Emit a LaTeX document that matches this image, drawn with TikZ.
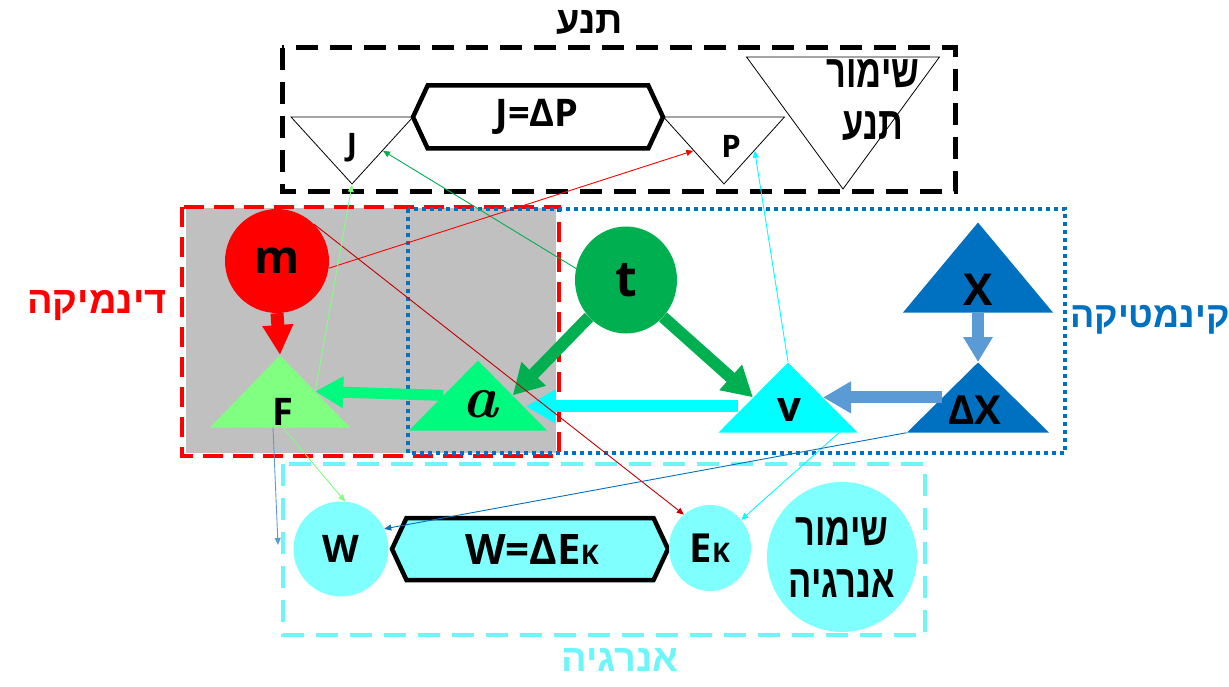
\documentclass[tikz,border=0pt]{standalone}
\usepackage{fontspec}
\usepackage{tikz}
\usetikzlibrary{shapes.geometric,shapes.symbols,arrows.meta}
\TeXXeTstate=1
\newfontfamily\latfont{Open Sans}
\newfontfamily\hebfont[Script=Hebrew]{Liberation Sans}
\newfontfamily\hebnarrow[Script=Hebrew,FakeStretch=0.75]{Liberation Sans}
\newcommand{\fsz}[1]{\fontsize{#1}{#1}\selectfont}
\definecolor{boxgray}{RGB}{192,192,192}
\definecolor{tgreen}{RGB}{0,176,80}
\definecolor{agreen}{RGB}{0,250,125}
\definecolor{lgreen}{RGB}{128,255,128}
\definecolor{dred}{RGB}{192,0,0}
\definecolor{vcyan}{RGB}{0,255,255}
\definecolor{kblue}{RGB}{0,112,192}
\definecolor{lblue}{RGB}{91,155,213}
\definecolor{ecyan}{RGB}{110,245,250}
\definecolor{lcyan}{RGB}{128,255,255}
\tikzstyle{tri} = [isosceles triangle, isosceles triangle stretches,
                   shape border rotate=90, inner sep=0pt, anchor=apex]
\tikzstyle{itri} = [isosceles triangle, isosceles triangle stretches,
                    shape border rotate=270, inner sep=0pt, anchor=apex,
                    draw=black, fill=white, line width=0.8pt]
\tikzstyle{hexa} = [signal, signal to=east and west, signal pointer angle=130,
                    draw=black, line width=4.5pt, inner sep=0pt]
\tikzstyle{frame} = [line width=4pt]
\tikzstyle{fat} = [line width=12pt, -{Triangle[length=28pt,width=30pt]}]
\tikzstyle{thin} = [line width=0.9pt, -{Triangle[length=7pt,width=6pt]}]
\tikzstyle{lat} = [inner sep=0pt]
\tikzstyle{heb} = [inner sep=0pt, align=center]

\begin{document}
\begin{tikzpicture}[x=1pt,y=-1pt]
\useasboundingbox (0,0) rectangle (1229,687);

% frames
\fill[boxgray] (186,208) rectangle (556,453);
\draw[frame, line width=5pt, dash pattern=on 22pt off 12pt] (282,48) rectangle (955,192);
\draw[frame, red, dash pattern=on 20pt off 10pt] (182,207) rectangle (559,456);
\draw[frame, kblue, dash pattern=on 4pt off 4pt] (408,209) rectangle (1065,453);
\draw[frame, ecyan, dash pattern=on 22pt off 12pt] (283,464) rectangle (925,635);

% frame labels
\node[heb, font=\hebfont\bfseries\fsz{38}] (tnua) at (590,22) {\beginR תנע\endR};
\node[heb, red, font=\hebfont\bfseries\fsz{38}] (dyn) at (97,306) {\beginR דינמיקה\endR};
\node[heb, kblue, font=\hebfont\bfseries\fsz{36}] (kin) at (1150,320) {\beginR קינמטיקה\endR};
\node[heb, ecyan, font=\hebfont\bfseries\fsz{38}] (energy) at (620,660) {\beginR אנרגיה\endR};

% momentum
\node[itri, minimum width=122pt, minimum height=67pt] (J) at (352,185) {};
\node[itri, minimum width=121pt, minimum height=67pt] (P) at (724,185) {};
\node[itri, minimum width=193pt, minimum height=132pt] (PP) at (843,190) {};
\node[hexa, fill=white, minimum width=250pt, minimum height=63pt] (JP) at (538,117) {};
\node[lat, font=\latfont\bfseries\fsz{38}] (JP text) at (537,117) {J=ΔP};
\node[lat, font=\latfont\bfseries\fsz{31}] (J text) at (352,148) {J};
\node[lat, font=\latfont\bfseries\fsz{31}] (P text) at (731,146) {P};
\node[heb, font=\hebnarrow\bfseries\fsz{46}] (PP text) at (873,100) {\beginR שימור\endR\\[6pt]\beginR תנע\endR};

% dynamics and kinematics
\node[circle, fill=red, minimum size=104pt, inner sep=0pt,
      font=\latfont\bfseries\fsz{46}] (m) at (277,261) {m};
\node[tri, fill=lgreen, minimum width=140pt, minimum height=72pt] (F) at (280,355) {};
\node[tri, fill=agreen, minimum width=138pt, minimum height=70pt] (a) at (478,360) {};
\node[ellipse, fill=tgreen, minimum width=102pt, minimum height=107pt, inner sep=0pt,
      font=\latfont\bfseries\fsz{50}] (t) at (626,280) {t};
\node[tri, fill=vcyan, minimum width=139pt, minimum height=70pt] (v) at (788,362) {};
\node[tri, fill=kblue, minimum width=150pt, minimum height=90pt] (X) at (978,222) {};
\node[tri, fill=kblue, minimum width=142pt, minimum height=70pt] (dX) at (978,362) {};
\node[lat, font=\latfont\bfseries\fsz{38}] (F text) at (283,412) {F};
\node[lat, font=\rmfamily\bfseries\itshape\fsz{60}] (a text) at (480,404) {a};
\node[lat, font=\latfont\bfseries\fsz{42}] (v text) at (789,410) {v};
\node[lat, font=\latfont\bfseries\fsz{44}] (X text) at (978,290) {X};
\node[lat, font=\latfont\bfseries\fsz{40}] (dX text) at (975,410) {ΔX};

% energy
\node[circle, fill=lcyan, minimum size=95pt, inner sep=0pt,
      font=\latfont\bfseries\fsz{38}] (W) at (341,549) {W};
\node[hexa, fill=lcyan, minimum width=276pt, minimum height=62pt] (WE) at (530,549) {};
\node[lat, font=\latfont\bfseries\fsz{42}] (WE text) at (532,549) {W=ΔE{\fsz{27}K}};
\node[ellipse, fill=lcyan, minimum width=82pt, minimum height=86pt, inner sep=0pt,
      font=\latfont\bfseries\fsz{40}] (Ek) at (710,548) {E{\fsz{27}K}};
\node[ellipse, fill=lcyan, minimum width=148pt, minimum height=150pt, inner sep=0pt,
      align=center, font=\hebnarrow\bfseries\fsz{46}] (EE) at (842,557)
      {\beginR שימור\endR\\[6pt]\beginR אנרגיה\endR};
\coordinate (free) at (278,545);

% thick arrows
\draw[fat, red, line width=13pt, -{Triangle[length=30pt,width=29pt]}] (m.south) -- (F.apex);
\draw[fat, agreen, line width=11pt] (a.left side) -- (F.right side);
\draw[fat, tgreen, -{Triangle[length=30pt,width=32pt]}] (t.225) -- (a.right side);
\draw[fat, tgreen, -{Triangle[length=30pt,width=32pt]}] (t.-45) -- (v.left side);
\draw[fat, lblue] (dX.left side) -- (v.right side);
\draw[fat, lblue, -{Triangle[length=25pt,width=28pt]}] (X.lower side) -- (dX.apex);
\draw[fat, vcyan, -{Triangle[length=30pt,width=32pt]}] ([xshift=-15pt,yshift=-9pt]v.left side)
   -- ([xshift=13pt,yshift=-11pt]a.right side);

% thin arrows
\draw[thin, tgreen] (t.167) -- (J.left side);
\draw[thin, red] (m.-8) -- (P.right side);
\draw[thin, dred] (m.45) -- (Ek.128);
\draw[thin, lgreen] (F.right side) -- (J.apex);
\draw[thin, lgreen] ([xshift=3pt]F.lower side) -- (W.85);
\draw[thin, lblue] ([xshift=-7pt]F.lower side) -- (free);
\draw[thin, vcyan] (v.apex) -- (P.left side);
\draw[thin, vcyan] ([xshift=-19pt]v.right corner) -- (Ek.42);
\draw[thin, kblue] (dX.left corner) -- (W.25);

\end{tikzpicture}
\end{document}
